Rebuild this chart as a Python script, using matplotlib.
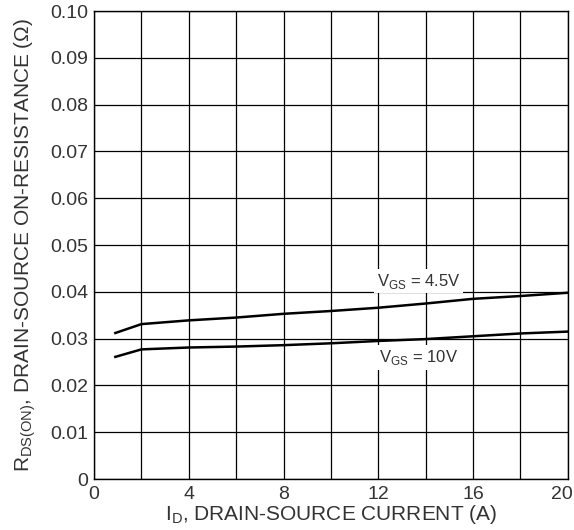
import matplotlib
matplotlib.use("Agg")
import matplotlib.pyplot as plt
from matplotlib.transforms import ScaledTranslation

plt.rcParams['font.family'] = ['Liberation Sans', 'DejaVu Sans']
plt.rcParams['mathtext.fontset'] = 'custom'
plt.rcParams['mathtext.rm'] = 'Liberation Sans'

# drain current (A) and on-resistance (ohm)
i_d = [0.9, 2, 4, 6, 8, 10, 12, 14, 16, 18, 20]
r_vgs_45 = [0.0312, 0.0331, 0.0339, 0.0345, 0.0353, 0.0359, 0.0366, 0.0375, 0.0385, 0.0391, 0.0398]
r_vgs_10 = [0.0261, 0.0277, 0.0281, 0.0283, 0.0286, 0.0290, 0.0295, 0.0299, 0.0305, 0.0311, 0.0315]

x_ticks = [0, 4, 8, 12, 16, 20]
y_ticks = [0, 0.01, 0.02, 0.03, 0.04, 0.05, 0.06, 0.07, 0.08, 0.09, 0.10]
y_labels = ['0', '0.01', '0.02', '0.03', '0.04', '0.05', '0.06', '0.07', '0.08', '0.09', '0.10']

fig = plt.figure(figsize=(5.74, 5.30), dpi=100)
ax = fig.add_axes([0.1638, 0.0962, 0.8253, 0.883])

ax.plot(i_d, r_vgs_45, color='black', lw=1.8)
ax.plot(i_d, r_vgs_10, color='black', lw=1.8)

ax.set_xlim(0, 20)
ax.set_ylim(0, 0.10)
ax.set_xticks(x_ticks)
ax.set_xticks(range(2, 20, 4), minor=True)
ax.set_yticks(y_ticks)
ax.set_yticklabels(y_labels)
ax.grid(True, which='both', color='black', lw=0.9)
ax.tick_params(which='both', length=0, labelsize=14, labelcolor='#333333')
ax.tick_params(axis='x', pad=5)
ax.tick_params(axis='y', pad=4)
for s in ax.spines.values():
    s.set_linewidth(1.0)

# keep the "20" inside the figure edge
last = ax.get_xticklabels()[-1]
last.set_transform(last.get_transform() + ScaledTranslation(-0.06, 0, fig.dpi_scale_trans))

ax.set_xlabel(r'I$_{\mathregular{D}}$, DRAIN-SOURCE CURRENT (A)', fontsize=15,
              color='#333333', labelpad=0)
ax.set_ylabel(r'R$_{\mathregular{DS(ON)}}$, DRAIN-SOURCE ON-RESISTANCE ($\Omega$)',
              fontsize=15, color='#333333', labelpad=9)

box = dict(facecolor='white', edgecolor='none', pad=2)
ax.text(13.7, 0.0423, r'V$_{\mathregular{GS}}$ = 4.5V', fontsize=12, color='#333333',
        ha='center', va='center', bbox=box)
ax.text(13.7, 0.0260, r'V$_{\mathregular{GS}}$ = 10V', fontsize=12, color='#333333',
        ha='center', va='center', bbox=box)

fig.savefig('out.png', dpi=100)
